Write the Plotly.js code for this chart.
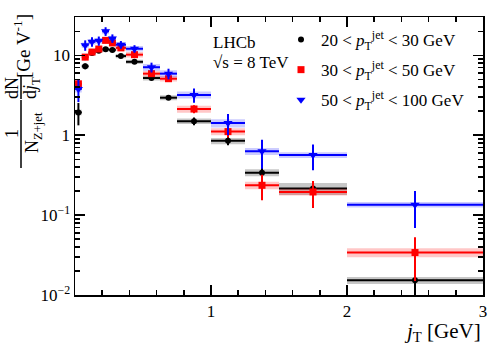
<!DOCTYPE html>
<html>
<head>
<meta charset="utf-8">
<script src="https://cdn.plot.ly/plotly-3.0.1.min.js"></script>
<style>
  body { margin: 0; background: #fff; }
  #plotDiv { width: 498px; height: 352px; }
</style>
</head>
<body>
<div id="plotDiv"></div>
<script>
// jT bin edges [GeV]
const binLo = [0, 0.05, 0.1, 0.15, 0.2, 0.25, 0.3, 0.375, 0.5, 0.625, 0.75, 1.0, 1.25, 1.5, 2.0];
const binHi = [0.05, 0.1, 0.15, 0.2, 0.25, 0.3, 0.375, 0.5, 0.625, 0.75, 1.0, 1.25, 1.5, 2.0, 3.0];

// 20 < pT jet < 30 GeV
const lowVals = [1.93, 7.3, 10.7, 11.4, 11.9, 11.7, 9.8, 8.3, 5.2, 2.95, 1.5, 0.85, 0.34, 0.215, 0.0153];
const lowStat = [0.6, 0.6, 0.5, 0.5, 0.5, 0.5, 0.4, 0.35, 0.25, 0.15, 0.17, 0.1, 0.06, 0.04, 0.01];
const lowSyst = [0.08, 0.06, 0.06, 0.06, 0.06, 0.06, 0.06, 0.06, 0.07, 0.07, 0.08, 0.09, 0.1, 0.17, 0.1];

// 30 < pT jet < 50 GeV
const midVals = [4.4, 9.5, 11.0, 12.0, 15.4, 14.3, 12.4, 10.2, 5.9, 5.1, 2.13, 1.11, 0.236, 0.195, 0.034];
const midStat = [0.6, 0.8, 0.8, 0.8, 1.2, 1.0, 0.8, 0.7, 0.5, 0.45, 0.25, 0.17, 0.083, 0.072, 0.019];
const midSyst = [0.1, 0.08, 0.08, 0.08, 0.08, 0.08, 0.08, 0.08, 0.08, 0.08, 0.1, 0.1, 0.11, 0.1, 0.13];

// 50 < pT jet < 100 GeV
const highVals = [3.8, 13.4, 14.8, 15.2, 20.0, 16.3, 13.6, 12.1, 7.1, 5.9, 3.2, 1.42, 0.63, 0.565, 0.135];
const highStat = [1.2, 2.0, 2.0, 2.0, 2.5, 2.0, 1.5, 1.3, 1.0, 0.9, 0.65, 0.42, 0.25, 0.2, 0.066];
const highSyst = [0.1, 0.08, 0.08, 0.08, 0.08, 0.08, 0.08, 0.08, 0.1, 0.1, 0.1, 0.12, 0.1, 0.08, 0.08];

const legendNames = [
  '20 &lt; <i>p</i><sub>T</sub><sup>jet</sup> &lt; 30 GeV',
  '30 &lt; <i>p</i><sub>T</sub><sup>jet</sup> &lt; 50 GeV',
  '50 &lt; <i>p</i><sub>T</sub><sup>jet</sup> &lt; 100 GeV'
];

const yTickVals = [0.01, 0.1, 1, 10];
const yTickText = ['10<sup>\u22122</sup>', '10<sup>\u22121</sup>', '1', '10'];
const xTickVals = [1, 2, 3];
const xTickText = ['1', '2', '3'];

const FONT = 'Liberation Serif, Times New Roman, serif';

const centers = binLo.map((lo, i) => (lo + binHi[i]) / 2);
const halfW = binLo.map((lo, i) => (binHi[i] - lo) / 2);

// systematic boxes as one filled trace per series, boxes split by nulls
const makeBand = (vals, syst, fillcolor) => {
  const xs = [], ys = [];
  vals.forEach((v, i) => {
    const lo = v * (1 - syst[i]), hi = v * (1 + syst[i]);
    xs.push(binLo[i], binHi[i], binHi[i], binLo[i], binLo[i], null);
    ys.push(lo, lo, hi, hi, lo, null);
  });
  return {
    x: xs, y: ys, type: 'scatter', mode: 'lines', fill: 'toself',
    fillcolor: fillcolor, line: {width: 0}, hoverinfo: 'skip', showlegend: false
  };
};

const makePoints = (vals, stat, color, symbol, size, name, group) => ({
  x: centers, y: vals, type: 'scatter', mode: 'markers', name: name, legendgroup: group,
  marker: {color: color, symbol: symbol, size: size},
  error_x: {type: 'data', array: halfW, color: color, thickness: 2, width: 0},
  error_y: {type: 'data', array: stat, color: color, thickness: 2, width: 0}
});

const data = [
  makeBand(lowVals, lowSyst, 'rgba(0,0,0,0.22)'),
  makePoints(lowVals, lowStat, '#000000', 'circle', 6, legendNames[0], 'g1'),
  makeBand(midVals, midSyst, 'rgba(255,0,0,0.22)'),
  makePoints(midVals, midStat, '#ff0000', 'square', 7, legendNames[1], 'g2'),
  makeBand(highVals, highSyst, 'rgba(0,0,255,0.2)'),
  makePoints(highVals, highStat, '#0000ff', 'triangle-down', 8, legendNames[2], 'g3')
];

// minor ticks of the log axis (2..9 per decade)
const yMinor = [];
for (let d = -2; d <= 1; d++) {
  for (let k = 2; k <= 9; k++) yMinor.push(k * Math.pow(10, d));
}

// pixel -> paper helpers for the text around the frame
const L = 75, R = 15, T = 17, B = 57, W = 498, H = 352;
const px = (x) => (x - L) / (W - L - R);
const py = (y) => (H - B - y) / (H - T - B);

const rotText = (text, x, y, size) => ({
  text: text, xref: 'paper', yref: 'paper', x: px(x), y: py(y),
  textangle: -90, showarrow: false, xanchor: 'center', yanchor: 'middle',
  font: {family: FONT, size: size, color: '#000'}
});

const layout = {
  width: W, height: H,
  margin: {l: L, r: R, t: T, b: B},
  paper_bgcolor: '#fff', plot_bgcolor: '#fff',
  font: {family: FONT, size: 17, color: '#000'},
  showlegend: true,
  legend: {
    x: px(281), y: py(22), xanchor: 'left', yanchor: 'top',
    bgcolor: 'rgba(0,0,0,0)', font: {family: FONT, size: 17},
    tracegroupgap: 5
  },
  xaxis: {
    range: [0, 3], tickvals: xTickVals, ticktext: xTickText,
    ticks: 'inside', ticklen: 10, tickwidth: 1.5, tickcolor: '#000',
    minor: {dtick: 0.2, ticks: 'inside', ticklen: 5, tickwidth: 1.5, tickcolor: '#000'},
    showline: true, linecolor: '#000', linewidth: 1.5, mirror: 'allticks',
    showgrid: false, zeroline: false,
    tickfont: {family: FONT, size: 17}
  },
  yaxis: {
    type: 'log', range: [-2, 1.48],
    tickvals: yTickVals, ticktext: yTickText,
    ticks: 'inside', ticklen: 10, tickwidth: 1.5, tickcolor: '#000',
    minor: {tickvals: yMinor, ticks: 'inside', ticklen: 5, tickwidth: 1.5, tickcolor: '#000'},
    showline: true, linecolor: '#000', linewidth: 1.5, mirror: 'allticks',
    showgrid: false, zeroline: false,
    tickfont: {family: FONT, size: 17}
  },
  shapes: [
    {type: 'line', xref: 'paper', yref: 'paper', x0: px(21), x1: px(21), y0: py(100), y1: py(168), line: {color: '#000', width: 1.5}},
    {type: 'line', xref: 'paper', yref: 'paper', x0: px(21), x1: px(21), y0: py(76), y1: py(99), line: {color: '#000', width: 1.5}}
  ],
  annotations: [
    rotText('1', 12, 134, 18),
    rotText('N<sub>Z+jet</sub>', 33, 133, 18),
    rotText('dN', 12, 88, 18),
    rotText('d<i>j</i><sub>T</sub>', 32, 88, 18),
    rotText('[Ge V<sup>-1</sup>]', 22, 46, 19),
    {text: '<i>j</i><sub>T</sub> [GeV]', xref: 'paper', yref: 'paper', x: px(483), y: py(332),
     xanchor: 'right', yanchor: 'middle', showarrow: false, font: {family: FONT, size: 21}},
    {text: 'LHCb', xref: 'paper', yref: 'paper', x: px(211), y: py(43),
     xanchor: 'left', yanchor: 'middle', showarrow: false, font: {family: FONT, size: 17}},
    {text: '\u221As = 8 TeV', xref: 'paper', yref: 'paper', x: px(211), y: py(63),
     xanchor: 'left', yanchor: 'middle', showarrow: false, font: {family: FONT, size: 17}}
  ]
};

Plotly.newPlot('plotDiv', data, layout, {staticPlot: true});
</script>
</body>
</html>
